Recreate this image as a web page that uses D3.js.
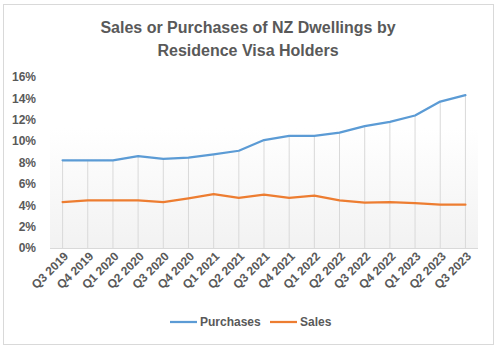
<!DOCTYPE html>
<html lang="en">
<head>
    <meta charset="UTF-8">
    <title>NZ Dwellings by Residence Visa Holders</title>
    <script src="https://d3js.org/d3.v7.min.js"></script>
    <style>
        body { margin: 0; background: #fff; }
        text { font-family: "Liberation Sans", Arial, sans-serif; fill: #595959; }
        .title { font-size: 16px; font-weight: bold; }
        .tick_label { font-size: 12px; font-weight: bold; }
        .legend_text { font-size: 12px; font-weight: bold; }
    </style>
</head>
<body>
<svg id="chart"></svg>
<script>
    const quarters = ["Q3 2019", "Q4 2019", "Q1 2020", "Q2 2020", "Q3 2020", "Q4 2020",
        "Q1 2021", "Q2 2021", "Q3 2021", "Q4 2021", "Q1 2022", "Q2 2022", "Q3 2022",
        "Q4 2022", "Q1 2023", "Q2 2023", "Q3 2023"];
    const purchases = [8.2, 8.2, 8.2, 8.6, 8.35, 8.45, 8.75, 9.1, 10.1, 10.5, 10.5, 10.8,
        11.4, 11.8, 12.4, 13.7, 14.3];
    const sales = [4.3, 4.45, 4.45, 4.45, 4.3, 4.65, 5.05, 4.7, 5.0, 4.7, 4.9, 4.45,
        4.25, 4.3, 4.2, 4.05, 4.05];
    const yTicks = [0, 2, 4, 6, 8, 10, 12, 14, 16];
    const seriesNames = ["Purchases", "Sales"];
    const seriesColors = ["#5b9bd5", "#ed7d31"];

    const width = 500, height = 351;
    const svg = d3.select("#chart").attr("width", width).attr("height", height);

    // outer chart border
    svg.append("rect")
        .attr("x", 3.5).attr("y", 4.5)
        .attr("width", 490).attr("height", 340)
        .attr("fill", "#fff")
        .attr("stroke", "#d9d9d9");

    const plotLeft = 50, plotRight = 478, plotTop = 77, plotBottom = 248;

    const x = d3.scalePoint().domain(quarters).range([plotLeft, plotRight]).padding(0.5);
    const y = d3.scaleLinear().domain([0, 16]).range([plotBottom, plotTop]);

    // plot area gradient
    const grad = svg.append("defs").append("linearGradient")
        .attr("id", "plotBg").attr("x1", 0).attr("y1", 0).attr("x2", 0).attr("y2", 1);
    grad.append("stop").attr("offset", "0%").attr("stop-color", "#ffffff");
    grad.append("stop").attr("offset", "30%").attr("stop-color", "#ffffff");
    grad.append("stop").attr("offset", "100%").attr("stop-color", "#f2f2f2");
    svg.append("rect")
        .attr("x", plotLeft).attr("y", plotTop)
        .attr("width", plotRight - plotLeft).attr("height", plotBottom - plotTop)
        .attr("fill", "url(#plotBg)");

    // title
    const title = svg.append("text").attr("class", "title").attr("text-anchor", "middle");
    title.append("tspan").attr("x", 248).attr("y", 33).text("Sales or Purchases of NZ Dwellings by");
    title.append("tspan").attr("x", 248).attr("y", 56).text("Residence Visa Holders");

    // drop lines
    svg.append("g").selectAll("line")
        .data(quarters)
        .join("line")
        .attr("x1", d => x(d)).attr("x2", d => x(d))
        .attr("y1", (d, i) => y(Math.max(purchases[i], sales[i])))
        .attr("y2", plotBottom)
        .attr("stroke", "#d9d9d9")
        .attr("stroke-width", 1);

    // x axis
    const xAxis = svg.append("g")
        .attr("transform", `translate(0,${plotBottom})`)
        .call(d3.axisBottom(x).tickSize(0).tickPadding(0));
    xAxis.select(".domain").attr("d", `M${plotLeft},0.5H${plotRight}`).attr("stroke", "#d9d9d9");
    xAxis.selectAll("text")
        .attr("class", "tick_label")
        .attr("fill", "#595959")
        .attr("text-anchor", "end")
        .attr("dy", null).attr("y", 0)
        .attr("transform", "translate(6,9) rotate(-45)");

    // y axis
    const yAxis = svg.append("g")
        .attr("transform", `translate(${plotLeft},0)`)
        .call(d3.axisLeft(y).tickValues(yTicks).tickSize(0).tickPadding(14).tickFormat(d => d + "%"));
    yAxis.select(".domain").remove();
    yAxis.selectAll("text").attr("class", "tick_label").attr("fill", "#595959");

    // lines
    const line = d3.line().x((d, i) => x(quarters[i])).y(d => y(d));
    [purchases, sales].forEach((vals, k) => {
        svg.append("path")
            .datum(vals)
            .attr("d", line)
            .attr("fill", "none")
            .attr("stroke", seriesColors[k])
            .attr("stroke-width", 2.25)
            .attr("stroke-linejoin", "round")
            .attr("stroke-linecap", "round");
    });

    // legend
    const legendX = [170, 270];
    const legend = svg.append("g").selectAll("g")
        .data(seriesNames)
        .join("g")
        .attr("transform", (d, i) => `translate(${legendX[i]},322)`);
    legend.append("line")
        .attr("x1", 0).attr("x2", 27)
        .attr("stroke", (d, i) => seriesColors[i])
        .attr("stroke-width", 2.25);
    legend.append("text")
        .attr("class", "legend_text")
        .attr("x", 30).attr("dy", "0.35em")
        .text(d => d);
</script>
</body>
</html>
